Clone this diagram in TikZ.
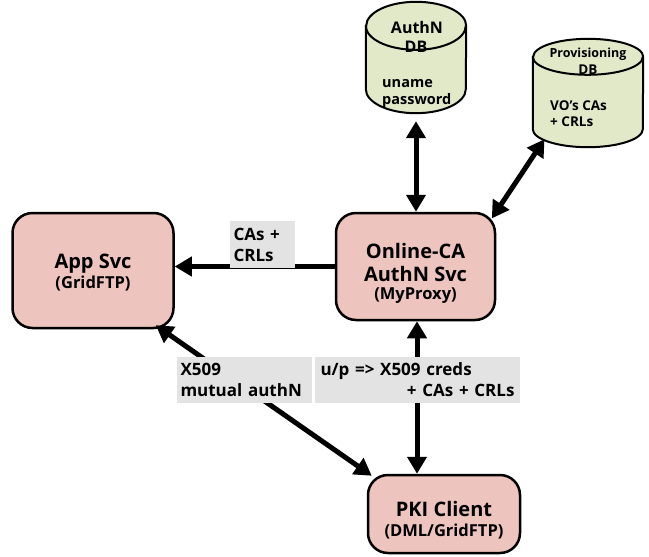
\documentclass[tikz,border=0pt]{standalone}
\usepackage{fontspec}
\setmainfont{Open Sans}
\usetikzlibrary{arrows.meta,calc}
\definecolor{boxpink}{HTML}{EEC4BE}
\definecolor{dbgreen}{HTML}{E1E9C9}
\definecolor{lblgray}{HTML}{E3E3E3}
\newcommand{\smallline}[1]{{\fontsize{16.5}{18}\selectfont #1}}
\tikzset{
  svc/.style={draw=black, line width=2.5pt, fill=boxpink, rounded corners=20pt, inner sep=0pt, align=center, font=\bfseries\fontsize{20}{23}\selectfont},
  dbarea/.style={inner sep=0pt},
  dbline/.style={draw=black, line width=2pt, fill=dbgreen},
  dbtext/.style={inner sep=0pt, anchor=base west, font=\bfseries\fontsize{14.5}{17}\selectfont},
  dbhead/.style={inner sep=0pt, anchor=base, font=\bfseries\fontsize{16}{18}\selectfont},
  lbl/.style={fill=lblgray, inner sep=0pt, align=left, font=\bfseries\fontsize{17}{21}\selectfont},
  arr/.style={line width=5pt, -{Triangle[length=17pt,width=19pt]}},
  darr/.style={line width=5pt, {Triangle[length=17pt,width=19pt]}-{Triangle[length=17pt,width=19pt]}},
}
\begin{document}
\begin{tikzpicture}[x=1pt,y=-1pt]
\useasboundingbox (0,0) rectangle (649,557);
% databases
\node[dbarea, minimum width=100pt, minimum height=111pt] (adb) at (416,57.5) {};
\path[dbline] ($(adb.north west)+(0,24)$) -- ($(adb.south west)+(0,-24)$)
  arc[start angle=180,end angle=360,x radius=50pt,y radius=24pt]
  -- ($(adb.north east)+(0,24)$)
  arc[start angle=0,end angle=180,x radius=50pt,y radius=24pt] -- cycle;
\draw[line width=2pt] ($(adb.north west)+(0,24)$) arc[start angle=180,end angle=360,x radius=50pt,y radius=24pt];
\node[dbhead] (adbt1) at (417,33) {AuthN};
\node[dbhead] (adbt2) at (416,52) {DB};
\node[dbtext] (adbt3) at (382,87) {uname};
\node[dbtext] (adbt4) at (382,104) {password};

\node[dbarea, minimum width=110pt, minimum height=108pt] (pdb) at (588,93) {};
\path[dbline] ($(pdb.north west)+(0,18)$) -- ($(pdb.south west)+(0,-18)$)
  arc[start angle=180,end angle=360,x radius=55pt,y radius=18pt]
  -- ($(pdb.north east)+(0,18)$)
  arc[start angle=0,end angle=180,x radius=55pt,y radius=18pt] -- cycle;
\draw[line width=2pt] ($(pdb.north west)+(0,18)$) arc[start angle=180,end angle=360,x radius=55pt,y radius=18pt];
\node[dbhead, font=\bfseries\fontsize{12.5}{15}\selectfont] (pdbt1) at (588,57) {Provisioning};
\node[dbhead, font=\bfseries\fontsize{13.5}{16}\selectfont] (pdbt2) at (588,74) {DB};
\node[dbtext, font=\bfseries\fontsize{13.5}{16}\selectfont] (pdbt3) at (550,110) {VO’s CAs};
\node[dbtext, font=\bfseries\fontsize{13.5}{16}\selectfont] (pdbt4) at (550,126) {+ CRLs};

% services
\node[svc, minimum width=161pt, minimum height=115pt] (app) at (93,270.5)
  {\rule{0pt}{19pt}App Svc\\[-3pt]\smallline{(GridFTP)}};
\node[svc, minimum width=159pt, minimum height=107pt] (oca) at (415.5,266.5)
  {\rule{0pt}{29pt}Online-CA\\AuthN Svc\\[-5pt]\smallline{(MyProxy)}};
\node[svc, minimum width=152pt, minimum height=78pt] (pki) at (444,514)
  {\rule{0pt}{28pt}PKI Client\\[-3pt]\smallline{(DML/GridFTP)}};

% connectors
\coordinate (ocab) at ($(oca.south)+(1.5,0)$);
\draw[darr, shorten <=8pt] (adb.south) -- (adb.south |- oca.north);
\draw[darr, shorten <=6pt, shorten >=-8pt] ($(pdb.south west)+(15,-13)$) -- (oca.north east);
\draw[arr] (oca.west) -- (app.east |- oca.west);
\draw[darr] ($(app.south east)+(-19,-4)$) -- ($(pki.north west)+(5,2)$);
\draw[darr] (ocab) -- (ocab |- pki.north);

% labels
\node[lbl, minimum width=65pt, minimum height=47pt, text width=58pt] (l1) at (262.5,244.5) {CAs +\\CRLs};
\node[lbl, minimum width=135pt, minimum height=46pt, text width=128pt] (l2) at (244.5,380) {X509\\mutual authN};
\node[lbl, minimum width=205pt, minimum height=46pt, text width=194pt] (l3) at (417.5,380) {u/p => X509 creds\\\hspace*{\fill}+ CAs + CRLs};
\end{tikzpicture}
\end{document}
